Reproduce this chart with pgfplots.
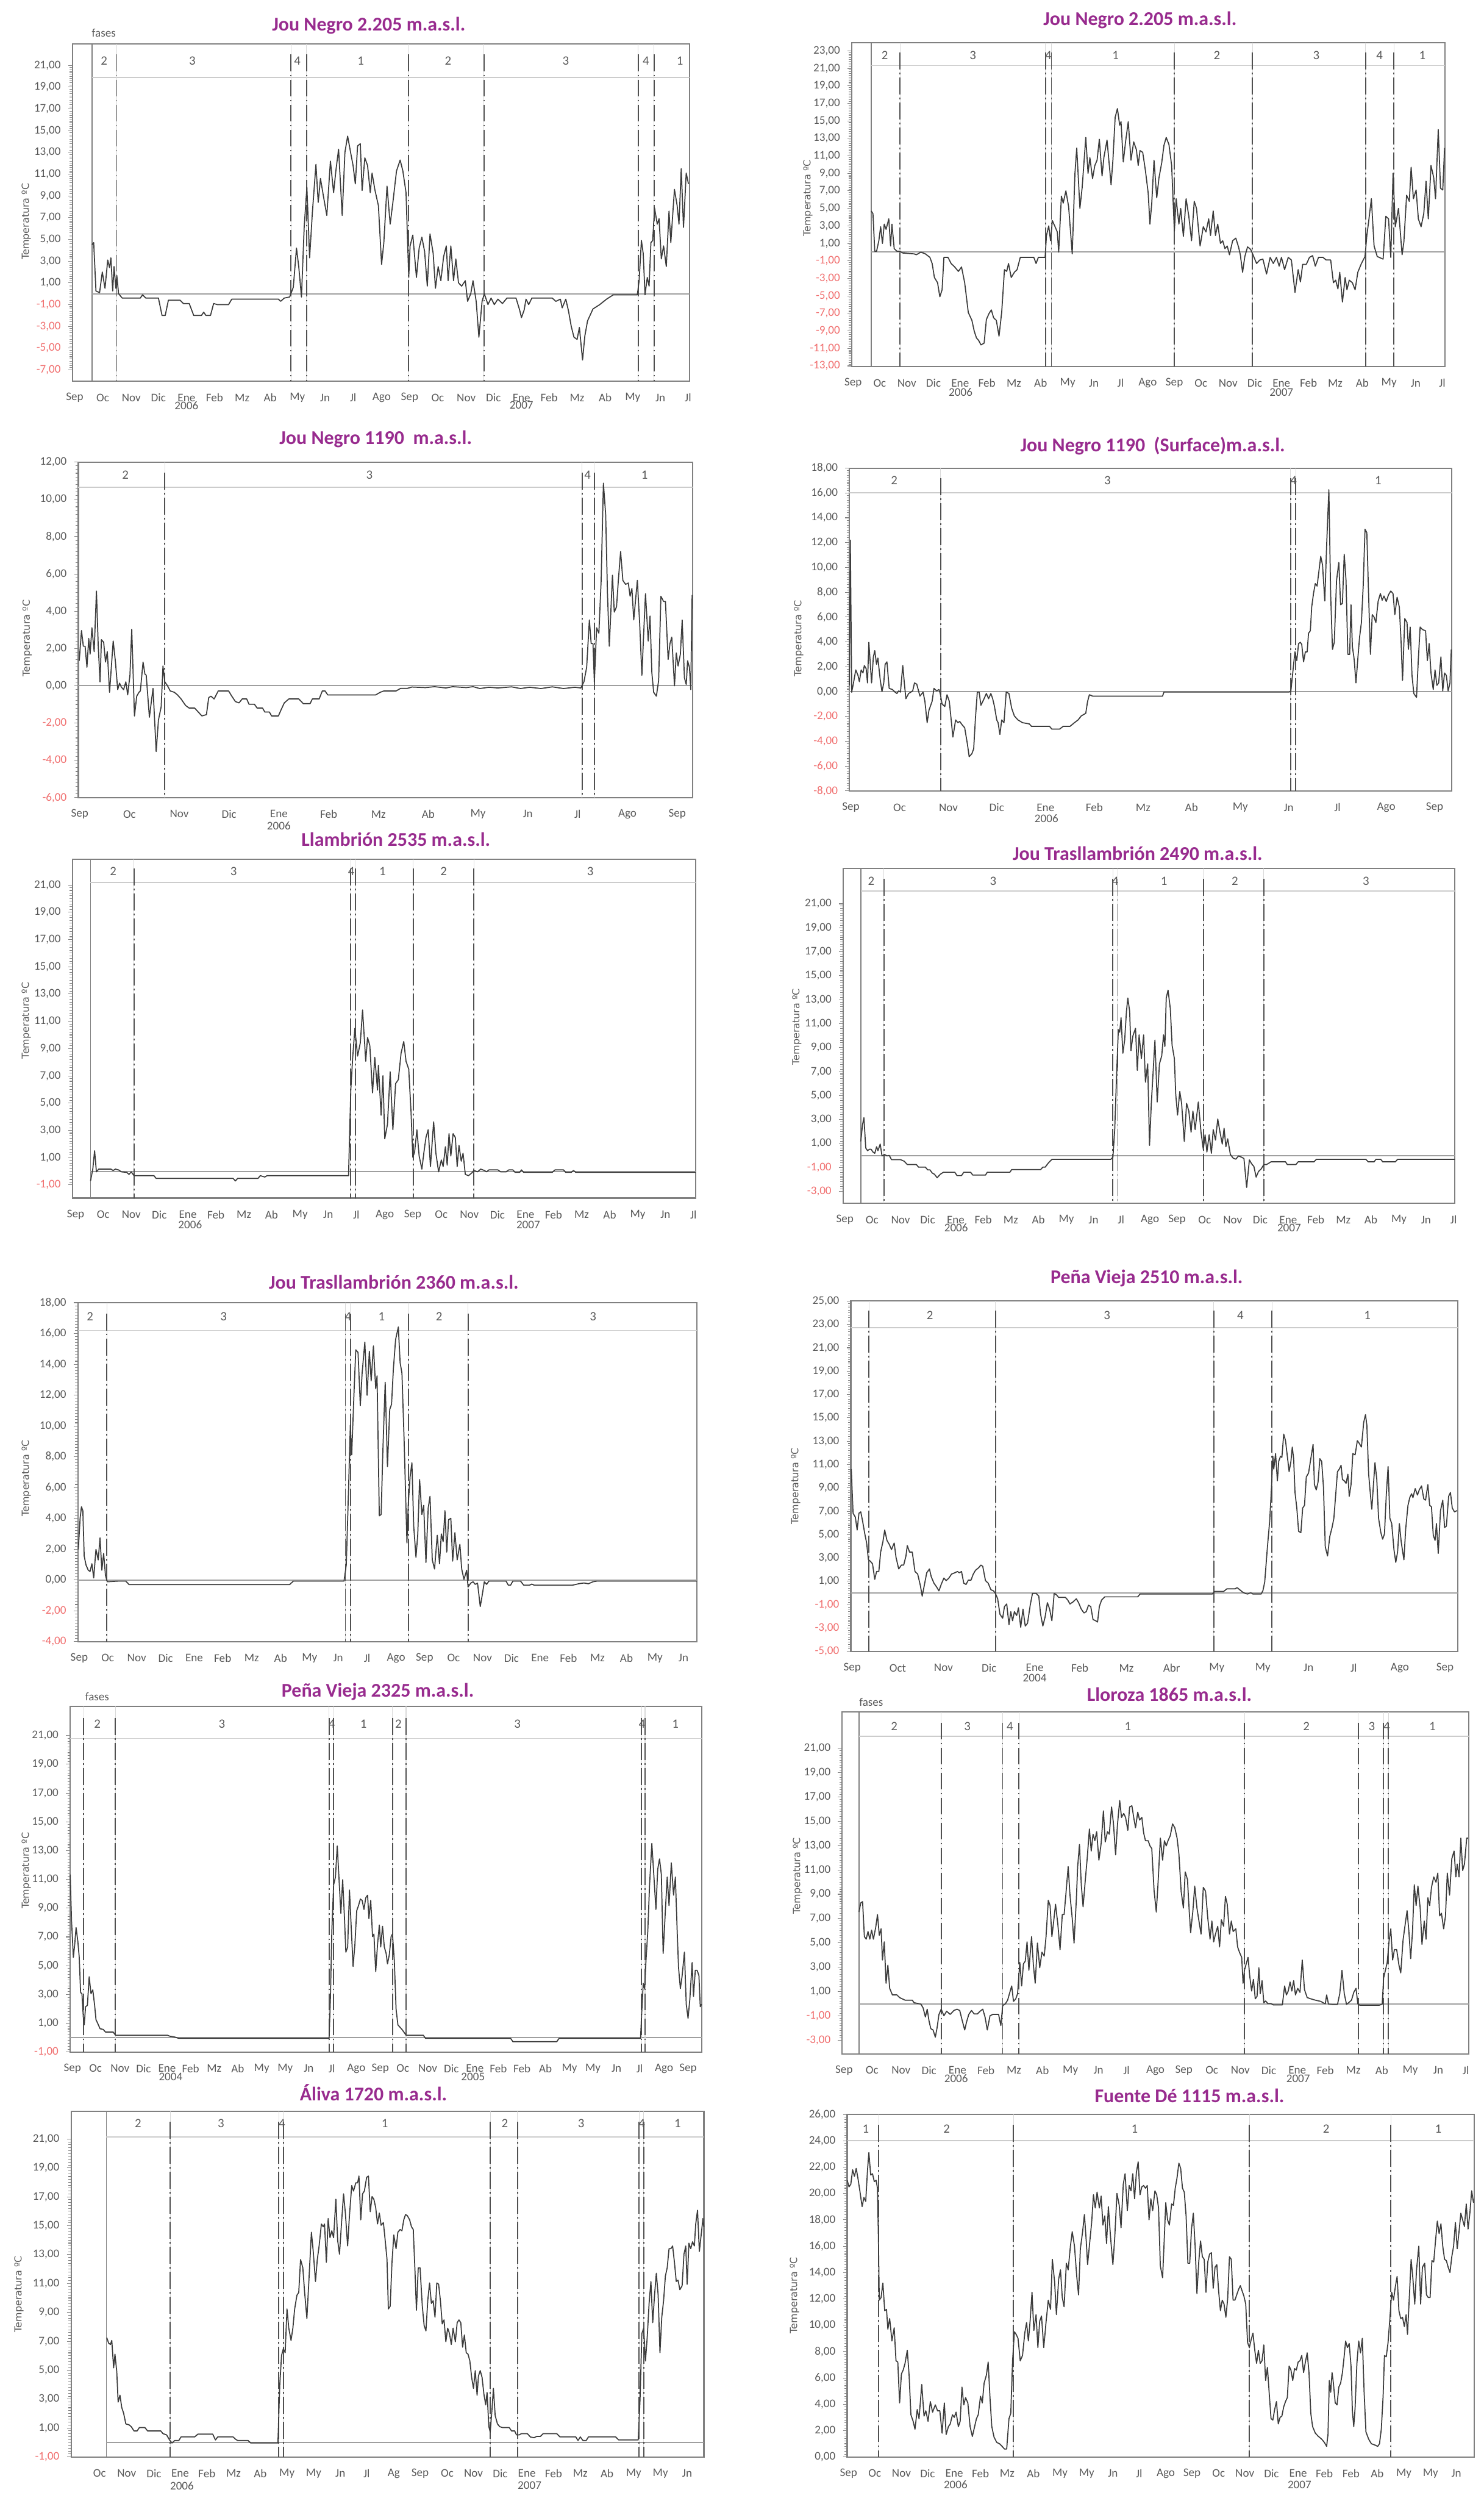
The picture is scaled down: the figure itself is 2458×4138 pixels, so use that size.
\documentclass[border=0pt]{standalone}
\usepackage{pgfplots}
\pgfplotsset{compat=1.18}
\usepackage{fontspec}
\setmainfont{Carlito}
\newfontfamily\ylfont{DejaVu Sans}
\definecolor{titlepurple}{RGB}{152,43,142}
\definecolor{lblgray}{RGB}{89,89,89}
\definecolor{negred}{RGB}{240,110,110}
\definecolor{axgray}{RGB}{128,128,128}
\definecolor{linegray}{RGB}{60,60,60}
\definecolor{phasegray}{RGB}{80,80,80}
\newcommand\negl[1]{\textcolor{negred}{#1}}
\newcommand\phl[2]{\draw[faint] (axis cs:#1,\YMIN) -- (axis cs:#1,\YMAX); \draw[phase] (axis cs:#1,#2) -- (axis cs:#1,\YMIN);}
\tikzset{
  faint/.style={draw=gray!30, line width=0.3pt},
  phase/.style={draw=phasegray, line width=0.55pt, dash pattern=on 8pt off 1.5pt on 0.8pt off 1.5pt},
  sepline/.style={draw=gray!40, line width=0.5pt},
  zeroline/.style={draw=gray!75, line width=0.6pt},
  frameline/.style={draw=axgray, line width=0.5pt},
  phlbl/.style={font=\fontsize{6}{7}\selectfont, text=lblgray},
  yearlbl/.style={font=\fontsize{5.5}{6.5}\selectfont, text=lblgray},
  ylab/.style={rotate=90, font=\ylfont\fontsize{4.6}{5.5}\selectfont, text=lblgray},
  ttl/.style={font=\fontsize{9.2}{11}\selectfont\bfseries, text=titlepurple},
  fases/.style={font=\fontsize{5.5}{6.5}\selectfont, text=lblgray},
}
\pgfplotsset{
  panel/.style={
    clip=false,
    anchor=north west,
    axis line style={draw=axgray, line width=0.6pt},
    every tick label/.append style={font=\fontsize{5.5}{6.5}\selectfont, text=lblgray},
    xtick style={draw=none},
    ytick style={draw=axgray, line width=0.3pt},
    minor tick style={draw=axgray!80, line width=0.2pt},
    tick pos=left,
    tick align=outside,
    major tick length=2pt,
    minor tick length=1.3pt,
    minor y tick num=9,
    xticklabel style={anchor=center, yshift=-5.8pt},
  },
  dataline/.style={color=linegray, line width=0.5pt, line join=round},
}
\begin{document}
\begin{tikzpicture}[x=0.284784pt, y=0.284784pt]
\useasboundingbox (0,0) rectangle (2458,4138);

% ---------------- Panel 1 ----------------
\node[ttl] at (611,4096) {Jou Negro 2.205 m.a.s.l.};
\node[fases] at (172,4083) {fases};
\def\YMIN{-8.056}\def\YMAX{22.965}
\begin{axis}[panel, at={(34.174pt,1157.647pt)}, x=0.213588pt, y=5.128pt,
  xmin=160, xmax=1523, ymin=-8.056, ymax=22.965,
  xtick={165,227,290,350,412,474,535,597,657,718,780,843,905,967,1030,1090,1152,1213,1275,1337,1398,1459,1520},
  xticklabels={Sep,Oc,Nov,Dic,Ene,Feb,Mz,Ab,My,Jn,Jl,Ago,Sep,Oc,Nov,Dic,Ene,Feb,Mz,Ab,My,Jn,Jl},
  ytick={-7,-5,...,21},
  yticklabels={{\negl{-7,00}},{\negl{-5,00}},{\negl{-3,00}},{\negl{-1,00}},{1,00},{3,00},{5,00},{7,00},{9,00},{11,00},{13,00},{15,00},{17,00},{19,00},{21,00}}]
\draw[frameline] (axis cs:203,\YMIN) -- (axis cs:203,\YMAX);
\draw[sepline] (axis cs:203,19.9) -- (axis cs:1523,19.9);
\draw[zeroline] (axis cs:203,0) -- (axis cs:1523,0);
\phl{258}{22}\phl{643}{22}\phl{677}{22}\phl{903}{22}\phl{1069}{22}\phl{1410}{22}\phl{1445}{22}
\node[phlbl] at (axis cs:230,21.4) {2};
\node[phlbl] at (axis cs:425,21.4) {3};
\node[phlbl] at (axis cs:657,21.4) {4};
\node[phlbl] at (axis cs:797,21.4) {1};
\node[phlbl] at (axis cs:990,21.4) {2};
\node[phlbl] at (axis cs:1250,21.4) {3};
\node[phlbl] at (axis cs:1427,21.4) {4};
\node[phlbl] at (axis cs:1502,21.4) {1};
\node[yearlbl, yshift=-11.4pt] at (axis cs:412,\YMIN) {2006};
\node[yearlbl, yshift=-11.4pt] at (axis cs:1152,\YMIN) {2007};
\node[xshift=-21.8pt, ylab] at (rel axis cs:0,0.474) {Temperatura ºC};
\addplot[dataline] coordinates {(203,4.5)(207,4.7)(212,0.25)(220,0.1)(226,2.0)(232,0.5)(238,3.1)(242,2.4)(245,3.3)(249,0.25)(252,2.5)(256,0.5)(258,1.7)(262,0)(270,-0.4)(310,-0.4)(315,-0.1)(322,-0.4)(350,-0.4)(358,-2)(365,-2)(372,-0.6)(398,-0.6)(405,-0.9)(418,-0.9)(428,-2)(445,-2)(450,-1.7)(455,-2)(465,-2)(472,-0.9)(480,-1)(505,-1)(512,-0.5)(615,-0.5)(620,-0.7)(628,-0.4)(640,-0.3)(648,0.6)(655,4.2)(660,2.5)(666,-0.3)(672,6.1)(678,9.8)(684,3.3)(690,7.4)(698,11.9)(703,8.4)(708,10.6)(714,9.1)(722,7.2)(730,12.2)(737,9.3)(742,11.3)(748,13.3)(756,7.2)(762,13.0)(768,14.5)(775,12.9)(780,11.8)(785,10.1)(790,13.6)(796,13.8)(800,9.5)(806,12.5)(812,11.8)(818,9.3)(822,11.1)(828,9.6)(836,8.1)(843,2.7)(848,4.7)(855,9.9)(862,6.4)(868,8.4)(876,11.3)(884,12.3)(890,11.3)(897,9.3)(903,1.5)(906,4.4)(912,5.4)(920,1.5)(926,4.2)(932,5.2)(938,3.9)(944,0.7)(950,5.5)(957,3.7)(962,0.5)(968,2.5)(974,1.2)(980,3.4)(986,4.4)(990,1.2)(996,4.4)(1002,1.2)(1007,3.2)(1013,1.0)(1020,0.7)(1028,1.2)(1033,-0.7)(1040,0)(1045,1.2)(1052,-0.7)(1058,-4.0)(1065,-0.7)(1070,0)(1078,-1)(1085,-0.4)(1092,-1)(1100,-0.5)(1110,-0.9)(1120,-0.4)(1140,-0.4)(1148,-1.5)(1152,-2.2)(1158,-1.5)(1162,-0.5)(1168,-1)(1175,-0.4)(1220,-0.4)(1228,-0.7)(1238,-0.5)(1242,-1.3)(1250,-0.5)(1256,-1.6)(1262,-3)(1268,-4)(1275,-4.2)(1280,-3.1)(1287,-6.1)(1292,-3.9)(1298,-2.5)(1310,-1.4)(1325,-1)(1340,-0.5)(1355,-0.1)(1408,-0.1)(1412,1.2)(1417,4.9)(1421,3.7)(1425,-0.1)(1430,1.5)(1434,0.7)(1438,4.7)(1442,4.9)(1446,7.9)(1452,6.4)(1456,6.9)(1461,3.2)(1466,4.4)(1472,2.5)(1478,7.6)(1482,4.7)(1490,9.6)(1496,8.1)(1500,6.4)(1505,11.5)(1510,6.1)(1516,11.1)(1521,10.1)};
\end{axis}

% ---------------- Panel 2 ----------------
\node[ttl] at (1889,4105) {Jou Negro 2.205 m.a.s.l.};
\def\YMIN{-13.06}\def\YMAX{23.92}
\begin{axis}[panel, at={(401.916pt,1158.273pt)}, x=0.213227pt, y=4.129pt,
  xmin=162, xmax=1475, ymin=-13.06, ymax=23.92,
  xtick={165,224,284,343,402,461,521,580,640,698,757,817,876,935,995,1054,1113,1173,1232,1292,1351,1410,1469},
  xticklabels={Sep,Oc,Nov,Dic,Ene,Feb,Mz,Ab,My,Jn,Jl,Ago,Sep,Oc,Nov,Dic,Ene,Feb,Mz,Ab,My,Jn,Jl},
  ytick={-13,-11,...,23},
  yticklabels={{\negl{-13,00}},{\negl{-11,00}},{\negl{-9,00}},{\negl{-7,00}},{\negl{-5,00}},{\negl{-3,00}},{\negl{-1,00}},{1,00},{3,00},{5,00},{7,00},{9,00},{11,00},{13,00},{15,00},{17,00},{19,00},{21,00},{23,00}}]
\draw[frameline] (axis cs:205,\YMIN) -- (axis cs:205,\YMAX);
\draw[sepline] (axis cs:205,21.32) -- (axis cs:1475,21.32);
\draw[zeroline] (axis cs:205,0) -- (axis cs:1475,0);
\phl{269}{22.8}\phl{591}{22.8}\phl{604}{22.8}\phl{876}{22.8}\phl{1049}{22.8}\phl{1299}{22.8}\phl{1362}{22.8}
\node[phlbl] at (axis cs:235,22.5) {2};
\node[phlbl] at (axis cs:430,22.5) {3};
\node[phlbl] at (axis cs:597,22.5) {4};
\node[phlbl] at (axis cs:746,22.5) {1};
\node[phlbl] at (axis cs:970,22.5) {2};
\node[phlbl] at (axis cs:1190,22.5) {3};
\node[phlbl] at (axis cs:1330,22.5) {4};
\node[phlbl] at (axis cs:1425,22.5) {1};
\node[yearlbl, yshift=-12.2pt] at (axis cs:403,\YMIN) {2006};
\node[yearlbl, yshift=-12.2pt] at (axis cs:1113,\YMIN) {2007};
\node[xshift=-20.7pt, ylab] at (rel axis cs:0,0.52) {Temperatura ºC};
\addplot[dataline] coordinates {(205,4.7)(209,4.4)(213,0.1)(217,0.1)(222,1.3)(226,2.9)(230,1.0)(234,3.2)(238,2.6)(244,3.8)(248,0.7)(251,3.2)(256,0.4)(262,0.1)(268,0.1)(275,-0.1)(300,-0.2)(305,-0.3)(315,0.0)(325,-0.2)(335,-0.6)(340,-1.3)(345,-2.9)(352,-3.5)(357,-5.1)(362,-4.3)(366,-0.6)(375,-0.6)(382,-1.3)(390,-1.7)(398,-2.2)(405,-1.7)(412,-3.5)(420,-6.9)(428,-7.8)(433,-9.0)(438,-9.8)(443,-10.1)(448,-10.6)(455,-10.4)(460,-7.7)(466,-7.0)(471,-6.6)(476,-7.5)(482,-7.8)(488,-9.6)(494,-6.8)(500,-2.0)(505,-2.2)(509,-1.3)(515,-2.9)(522,-2.3)(528,-2.0)(535,-0.6)(565,-0.6)(570,-1.3)(575,-0.6)(590,-0.6)(593,1.9)(598,3.0)(602,1.3)(606,3.6)(612,2.9)(617,2.3)(620,0.0)(626,6.4)(630,5.6)(636,7.0)(642,5.2)(650,-0.2)(656,9.0)(660,11.9)(667,5.0)(672,7.4)(680,13.1)(685,9.0)(689,10.8)(695,8.4)(700,9.9)(705,10.5)(710,12.9)(716,8.7)(720,10.8)(727,12.8)(736,7.7)(740,10.5)(745,15.4)(750,16.4)(755,14.5)(758,14.9)(763,10.3)(768,12.6)(774,14.9)(780,10.5)(786,12.6)(792,11.7)(796,9.9)(800,11.6)(806,11.4)(812,9.3)(818,6.8)(822,3.2)(826,5.6)(831,10.5)(837,6.2)(842,8.5)(848,10.2)(853,12.2)(858,13.1)(864,12.3)(870,9.9)(876,2.4)(880,6.1)(886,3.2)(890,5.0)(896,1.8)(902,6.1)(908,4.1)(914,1.3)(920,5.8)(925,5.0)(933,0.7)(940,2.9)(946,2.3)(952,3.8)(956,1.9)(962,4.7)(967,1.9)(972,3.2)(978,1.0)(983,1.3)(988,0.4)(993,0.7)(998,-0.3)(1005,1.3)(1012,1.6)(1018,0.6)(1022,-0.3)(1027,-2.3)(1032,-0.5)(1038,0.6)(1045,0.3)(1050,-0.3)(1058,-1.3)(1065,-0.9)(1072,-0.8)(1080,-2.5)(1088,-0.6)(1095,-1.3)(1102,-0.6)(1108,-1.6)(1113,-0.6)(1120,-2.0)(1128,-0.6)(1135,-0.9)(1143,-4.6)(1150,-2.0)(1155,-3.4)(1160,-1.4)(1168,-1.4)(1175,-0.6)(1182,-0.4)(1188,-1.6)(1195,-0.6)(1205,-0.6)(1212,-0.9)(1222,-0.9)(1228,-3.5)(1233,-3.2)(1238,-4.2)(1242,-2.3)(1248,-5.7)(1254,-2.9)(1258,-4.3)(1263,-3.2)(1270,-3.5)(1276,-4.3)(1282,-2.3)(1290,-1.3)(1298,-0.5)(1302,1.9)(1306,3.5)(1312,6.1)(1318,0.7)(1325,-0.5)(1338,-0.8)(1344,4.1)(1350,3.8)(1355,-0.6)(1360,9.0)(1365,2.9)(1372,5.0)(1380,-0.3)(1384,1.2)(1390,6.5)(1396,5.8)(1400,9.7)(1405,6.1)(1411,7.1)(1416,3.8)(1422,2.9)(1428,4.4)(1433,8.1)(1438,3.8)(1444,9.9)(1450,8.5)(1454,6.1)(1460,14.0)(1465,7.3)(1470,7.1)(1474,11.9)};
\end{axis}

% ---------------- Panel 3 ----------------
\node[ttl] at (622.5,3411) {Jou Negro 1190\ \ m.a.s.l.};
\def\YMIN{-6}\def\YMAX{12}
\begin{axis}[panel, at={(36.965pt,960.462pt)}, x=0.213588pt, y=8.793pt,
  xmin=173, xmax=1530, ymin=-6, ymax=12,
  xtick={176,286,396,506,616,726,836,946,1056,1166,1276,1386,1496},
  xticklabels={Sep,Oc,Nov,Dic,Ene,Feb,Mz,Ab,My,Jn,Jl,Ago,Sep},
  ytick={-6,-4,...,12},
  yticklabels={{\negl{-6,00}},{\negl{-4,00}},{\negl{-2,00}},{0,00},{2,00},{4,00},{6,00},{8,00},{10,00},{12,00}}]
\draw[sepline] (axis cs:173,10.64) -- (axis cs:1530,10.64);
\draw[zeroline] (axis cs:173,0) -- (axis cs:1530,0);
\phl{364}{11.44}\phl{1286}{11.44}\phl{1313}{11.44}
\node[phlbl] at (axis cs:277,11.32) {2};
\node[phlbl] at (axis cs:816,11.32) {3};
\node[phlbl] at (axis cs:1298,11.32) {4};
\node[phlbl] at (axis cs:1424,11.32) {1};
\node[yearlbl, yshift=-13.2pt] at (axis cs:616,\YMIN) {2006};
\node[xshift=-24.1pt, ylab] at (rel axis cs:0,0.475) {Temperatura ºC};
\addplot[dataline] coordinates {(175,1.34)(180,2.96)(184,2.12)(188,2.12)(192,0.99)(196,2.54)(199,1.69)(203,3.11)(208,1.83)(213,5.08)(217,2.12)(221,0.21)(224,2.47)(229,2.33)(233,1.27)(237,1.83)(242,-0.35)(250,2.40)(255,1.27)(260,-0.21)(264,0.14)(268,-0.07)(273,-0.21)(278,0.21)(282,-0.49)(287,0.56)(291,3.03)(297,-1.62)(302,-0.56)(307,-0.35)(310,-0.28)(316,1.27)(320,0.63)(323,0.56)(330,-1.69)(338,-0.14)(345,-3.53)(350,-1.84)(356,-1.13)(360,1.06)(364,0.21)(370,0.0)(376,-0.28)(385,-0.35)(392,-0.49)(400,-0.71)(410,-1.06)(418,-1.20)(430,-1.20)(438,-1.41)(446,-1.62)(456,-1.55)(461,-0.64)(466,-0.56)(473,-0.71)(482,-0.28)(505,-0.28)(512,-0.56)(520,-0.85)(528,-0.92)(535,-0.71)(545,-0.71)(550,-0.99)(562,-0.99)(568,-1.20)(580,-1.20)(585,-1.41)(595,-1.41)(600,-1.62)(615,-1.62)(620,-1.34)(628,-0.92)(638,-0.71)(660,-0.71)(670,-0.96)(685,-0.96)(690,-0.71)(705,-0.71)(712,-0.28)(718,-0.28)(724,-0.49)(830,-0.49)(840,-0.35)(848,-0.28)(875,-0.28)(885,-0.14)(900,-0.14)(910,-0.07)(940,-0.1)(960,-0.05)(985,-0.12)(1000,-0.05)(1030,-0.1)(1045,-0.05)(1060,-0.15)(1080,-0.08)(1100,-0.12)(1130,-0.06)(1150,-0.15)(1170,-0.08)(1195,-0.15)(1220,-0.06)(1245,-0.15)(1270,-0.08)(1283,-0.12)(1290,0.21)(1296,0.99)(1302,3.53)(1306,2.26)(1310,2.26)(1313,0.21)(1318,3.11)(1323,2.82)(1328,5.65)(1333,10.87)(1338,9.18)(1342,4.94)(1346,2.12)(1353,5.93)(1357,3.95)(1362,4.24)(1366,5.65)(1371,7.20)(1376,5.65)(1382,5.44)(1388,5.51)(1392,4.80)(1396,5.22)(1400,3.53)(1408,5.65)(1413,3.39)(1418,0.56)(1422,2.82)(1426,4.94)(1432,2.40)(1436,3.74)(1440,0.71)(1444,-0.35)(1450,-0.56)(1455,0.28)(1460,4.80)(1466,4.52)(1470,4.52)(1476,1.41)(1480,2.26)(1484,2.61)(1490,0.0)(1494,1.76)(1498,1.06)(1503,1.69)(1507,3.53)(1512,0.42)(1516,0.07)(1519,1.34)(1523,0.99)(1526,-0.21)(1529,4.87)};
\end{axis}

% ---------------- Panel 4 ----------------
\node[ttl] at (1910,3399) {Jou Negro 1190\ \ (Surface)m.a.s.l.};
\def\YMIN{-8}\def\YMAX{18}
\begin{axis}[panel, at={(400.834pt,957.615pt)}, x=0.213227pt, y=5.858pt,
  xmin=157, xmax=1490, ymin=-8, ymax=18,
  xtick={160,268,376,483,591,699,807,914,1022,1129,1237,1345,1452},
  xticklabels={Sep,Oc,Nov,Dic,Ene,Feb,Mz,Ab,My,Jn,Jl,Ago,Sep},
  ytick={-8,-6,...,18},
  yticklabels={{\negl{-8,00}},{\negl{-6,00}},{\negl{-4,00}},{\negl{-2,00}},{0,00},{2,00},{4,00},{6,00},{8,00},{10,00},{12,00},{14,00},{16,00},{18,00}}]
\draw[sepline] (axis cs:157,16.0) -- (axis cs:1490,16.0);
\draw[zeroline] (axis cs:157,0) -- (axis cs:1490,0);
\phl{359}{17.2}\phl{1133}{17.2}\phl{1145}{17.2}
\node[phlbl] at (axis cs:256,17.0) {2};
\node[phlbl] at (axis cs:728,17.0) {3};
\node[phlbl] at (axis cs:1140,17.0) {4};
\node[phlbl] at (axis cs:1327,17.0) {1};
\node[yearlbl, yshift=-13pt] at (axis cs:593,\YMIN) {2006};
\node[xshift=-23.9pt, ylab] at (rel axis cs:0,0.473) {Temperatura ºC};
\addplot[dataline] coordinates {(157,0.5)(159,12.2)(162,-0.05)(166,0.7)(171,1.75)(176,1.3)(179,0.8)(183,1.75)(187,1.5)(190,2.1)(194,1.85)(197,0.7)(200,3.97)(206,0.7)(210,2.8)(213,3.3)(217,2.2)(220,2.7)(225,1.0)(229,0)(233,0.7)(236,2.2)(240,2.4)(245,0.26)(252,0.17)(258,-0.04)(262,-0.15)(266,0.06)(270,-0.04)(275,2.1)(279,0.5)(282,-0.57)(288,-0.15)(293,-0.04)(297,0.06)(301,0.7)(306,0.6)(313,-0.36)(320,-0.04)(324,-0.78)(329,-2.5)(333,-1.5)(340,-0.78)(344,0.26)(350,0.06)(355,0.17)(358,-0.15)(362,-1.0)(368,-1.2)(373,-0.25)(378,-0.78)(386,-3.66)(392,-2.28)(397,-2.5)(401,-2.4)(407,-2.7)(412,-2.9)(418,-4.2)(422,-5.24)(428,-5.0)(432,-4.6)(436,-2.07)(440,-0.04)(444,-0.04)(448,-1.1)(455,-0.57)(460,-0.15)(465,-0.57)(470,-0.15)(474,-0.57)(478,-1.2)(483,-2.28)(486,-2.5)(490,-3.45)(494,-2.28)(499,-2.5)(504,-0.04)(510,-0.15)(516,-1.33)(522,-1.96)(530,-2.28)(540,-2.5)(555,-2.6)(560,-2.8)(600,-2.8)(605,-3.02)(622,-3.02)(630,-2.8)(645,-2.8)(655,-2.5)(663,-2.28)(670,-1.96)(675,-1.85)(680,-1.75)(684,-0.8)(688,-0.25)(695,-0.36)(850,-0.36)(853,-0.04)(1130,-0.04)(1134,0.06)(1140,2.2)(1143,3.2)(1147,2.5)(1151,3.87)(1155,3.97)(1158,3.8)(1162,2.4)(1166,3.2)(1170,3.2)(1173,4.7)(1177,4.9)(1180,6.8)(1184,7.9)(1188,8.7)(1192,8.5)(1195,9.4)(1200,10.9)(1204,10.2)(1209,7.3)(1213,11.7)(1218,16.26)(1222,7.8)(1226,3.4)(1230,3.97)(1235,8.95)(1240,10.4)(1244,7.0)(1248,7.1)(1252,11.07)(1256,8.95)(1260,3.0)(1264,3.0)(1267,7.0)(1270,3.65)(1274,2.6)(1278,0.7)(1282,2.6)(1286,4.4)(1290,5.56)(1294,8.5)(1298,13.08)(1302,12.8)(1306,7.7)(1310,3.0)(1314,6.2)(1318,6.0)(1322,5.56)(1327,7.26)(1332,7.9)(1336,7.36)(1340,7.7)(1345,7.26)(1350,7.8)(1355,8.1)(1360,7.9)(1364,6.2)(1369,7.6)(1374,6.8)(1378,3.87)(1381,0.9)(1386,5.88)(1391,5.56)(1394,3.4)(1398,5.2)(1402,1.3)(1406,-0.15)(1412,-0.47)(1416,2.6)(1420,5.2)(1425,5.0)(1432,4.9)(1436,2.5)(1440,3.87)(1444,1.5)(1449,0.17)(1453,1.75)(1457,0.5)(1461,0.7)(1466,2.8)(1470,0.06)(1474,1.5)(1478,1.3)(1482,0.06)(1486,0.7)(1489,3.4)};
\end{axis}

% ---------------- Panel 5 ----------------
\node[ttl] at (656,2747) {Llambrión 2535 m.a.s.l.};
\def\YMIN{-1.965}\def\YMAX{22.89}
\begin{axis}[panel, at={(34.174pt,773.132pt)}, x=0.213588pt, y=6.433pt,
  xmin=160, xmax=1537, ymin=-1.965, ymax=22.89,
  xtick={167,228,290,352,415,477,539,600,663,725,787,850,912,975,1037,1099,1161,1223,1285,1347,1409,1470,1532},
  xticklabels={Sep,Oc,Nov,Dic,Ene,Feb,Mz,Ab,My,Jn,Jl,Ago,Sep,Oc,Nov,Dic,Ene,Feb,Mz,Ab,My,Jn,Jl},
  ytick={-1,1,...,21},
  yticklabels={{\negl{-1,00}},{1,00},{3,00},{5,00},{7,00},{9,00},{11,00},{13,00},{15,00},{17,00},{19,00},{21,00}}]
\draw[frameline] (axis cs:200,\YMIN) -- (axis cs:200,\YMAX);
\draw[sepline] (axis cs:200,21.19) -- (axis cs:1537,21.19);
\draw[zeroline] (axis cs:200,0) -- (axis cs:1537,0);
\phl{296}{22.2}\phl{775}{22.2}\phl{785}{22.2}\phl{913}{22.2}\phl{1047}{22.2}
\node[phlbl] at (axis cs:250,22.0) {2};
\node[phlbl] at (axis cs:516,22.0) {3};
\node[phlbl] at (axis cs:776,22.0) {4};
\node[phlbl] at (axis cs:845,22.0) {1};
\node[phlbl] at (axis cs:980,22.0) {2};
\node[phlbl] at (axis cs:1304,22.0) {3};
\node[yearlbl, yshift=-12.6pt] at (axis cs:420,\YMIN) {2006};
\node[yearlbl, yshift=-12.6pt] at (axis cs:1167,\YMIN) {2007};
\node[xshift=-21.8pt, ylab] at (rel axis cs:0,0.524) {Temperatura ºC};
\addplot[dataline] coordinates {(200,-0.71)(205,0.16)(209,1.51)(213,-0.04)(218,0.16)(245,0.16)(250,0.06)(255,0.16)(262,0.1)(268,-0.04)(280,-0.08)(285,-0.23)(290,-0.04)(296,-0.32)(340,-0.32)(345,-0.52)(515,-0.52)(520,-0.71)(525,-0.52)(570,-0.52)(575,-0.32)(585,-0.42)(590,-0.32)(770,-0.32)(775,5.95)(779,8.26)(784,10.48)(790,8.45)(796,9.42)(801,11.83)(808,8.07)(812,9.81)(817,9.23)(823,5.75)(828,8.36)(834,5.95)(836,7.78)(842,4.11)(846,7.01)(850,2.38)(856,3.44)(862,7.30)(868,3.05)(874,6.43)(880,6.72)(886,8.65)(892,9.52)(897,8.07)(903,7.49)(908,4.40)(912,1.03)(916,1.41)(921,3.05)(926,1.12)(932,0.16)(937,1.51)(941,2.47)(946,3.05)(951,0.35)(958,3.63)(963,1.32)(969,-0.04)(975,0.83)(979,0.35)(984,1.80)(988,0.45)(992,2.76)(996,1.12)(1001,2.76)(1006,2.47)(1010,0.35)(1014,1.90)(1019,0.74)(1023,1.32)(1028,-0.23)(1035,-0.32)(1042,-0.13)(1047,0.06)(1055,-0.04)(1062,0.16)(1070,0.06)(1075,-0.04)(1080,0.1)(1100,0.1)(1106,-0.04)(1118,-0.04)(1124,0.1)(1133,0.1)(1138,-0.08)(1148,-0.08)(1152,0.1)(1157,-0.08)(1220,-0.08)(1226,0.1)(1245,0.1)(1250,-0.08)(1262,-0.08)(1267,0.06)(1272,-0.08)(1537,-0.08)};
\end{axis}

% ---------------- Panel 6 ----------------
\node[ttl] at (1885,2724.4) {Jou Trasllambrión 2490 m.a.s.l.};
\def\YMIN{-3.99}\def\YMAX{23.96}
\begin{axis}[panel, at={(397.872pt,768.803pt)}, x=0.213227pt, y=5.653pt,
  xmin=143, xmax=1497, ymin=-3.99, ymax=23.96,
  xtick={147,207,270,330,392,453,514,575,637,697,758,822,882,943,1005,1066,1128,1189,1250,1311,1373,1433,1494},
  xticklabels={Sep,Oc,Nov,Dic,Ene,Feb,Mz,Ab,My,Jn,Jl,Ago,Sep,Oc,Nov,Dic,Ene,Feb,Mz,Ab,My,Jn,Jl},
  ytick={-3,-1,...,21},
  yticklabels={{\negl{-3,00}},{\negl{-1,00}},{1,00},{3,00},{5,00},{7,00},{9,00},{11,00},{13,00},{15,00},{17,00},{19,00},{21,00}}]
\draw[frameline] (axis cs:182,\YMIN) -- (axis cs:182,\YMAX);
\draw[sepline] (axis cs:182,22.08) -- (axis cs:1497,22.08);
\draw[zeroline] (axis cs:182,0) -- (axis cs:1497,0);
\phl{233}{23.1}\phl{740}{23.1}\phl{751}{23.1}\phl{940}{23.1}\phl{1074}{23.1}
\node[phlbl] at (axis cs:205,22.9) {2};
\node[phlbl] at (axis cs:475,22.9) {3};
\node[phlbl] at (axis cs:745,22.9) {4};
\node[phlbl] at (axis cs:853,22.9) {1};
\node[phlbl] at (axis cs:1010,22.9) {2};
\node[phlbl] at (axis cs:1300,22.9) {3};
\node[yearlbl, yshift=-11.6pt] at (axis cs:393,\YMIN) {2006};
\node[yearlbl, yshift=-11.6pt] at (axis cs:1130,\YMIN) {2007};
\node[xshift=-21.9pt, ylab] at (rel axis cs:0,0.527) {Temperatura ºC};
\addplot[dataline] coordinates {(182,1.17)(186,2.60)(189,3.15)(193,0.62)(197,0.40)(201,0.51)(205,0.51)(209,0.29)(213,0.18)(217,0.73)(220,0.40)(225,0.95)(229,-0.04)(235,0.07)(240,-0.04)(245,0.0)(250,-0.35)(270,-0.35)(278,-0.48)(285,-0.76)(305,-0.76)(310,-0.98)(325,-0.98)(330,-1.20)(335,-1.20)(340,-1.46)(345,-1.57)(351,-1.86)(358,-1.57)(365,-1.40)(390,-1.40)(395,-1.68)(405,-1.68)(410,-1.40)(425,-1.40)(430,-1.64)(458,-1.64)(462,-1.40)(512,-1.40)(516,-1.18)(580,-1.18)(585,-0.98)(590,-0.98)(598,-0.59)(605,-0.33)(735,-0.33)(740,-0.15)(744,2.16)(748,6.55)(752,10.5)(755,10.28)(758,11.49)(762,8.53)(766,9.63)(770,12.04)(773,13.14)(777,12.04)(780,8.75)(784,9.95)(790,10.61)(794,7.10)(798,10.06)(803,8.09)(808,10.06)(812,6.11)(817,7.65)(821,0.84)(825,4.35)(829,6.99)(833,9.63)(838,4.46)(843,7.65)(848,8.31)(852,10.06)(855,9.08)(858,13.14)(862,13.80)(867,12.26)(871,9.19)(876,8.09)(879,5.12)(883,3.37)(888,5.34)(892,4.35)(898,1.17)(903,4.35)(908,3.70)(913,1.94)(917,3.70)(922,2.16)(929,4.46)(935,1.94)(940,0.51)(944,1.72)(948,0.29)(953,1.72)(958,0.18)(962,2.16)(967,1.28)(972,3.04)(977,1.94)(982,0.95)(986,2.27)(990,0.73)(994,1.39)(1000,0.07)(1006,-0.22)(1012,-0.31)(1018,-0.04)(1025,-0.15)(1030,-0.26)(1036,-2.67)(1042,-0.37)(1047,-0.70)(1052,-0.92)(1057,-1.81)(1062,-1.35)(1068,-1.13)(1074,-0.76)(1080,-0.76)(1090,-0.53)(1122,-0.53)(1126,-0.76)(1145,-0.76)(1150,-0.53)(1185,-0.53)(1190,-0.33)(1300,-0.33)(1305,-0.53)(1318,-0.53)(1322,-0.33)(1333,-0.33)(1337,-0.53)(1365,-0.53)(1370,-0.33)(1497,-0.33)};
\end{axis}

% ---------------- Panel 7 ----------------
\node[ttl] at (652.5,2013.6) {Jou Trasllambrión 2360 m.a.s.l.};
\def\YMIN{-4}\def\YMAX{18}
\begin{axis}[panel, at={(36.737pt,563.901pt)}, x=0.213588pt, y=7.266pt,
  xmin=172, xmax=1540, ymin=-4, ymax=18,
  xtick={175,238,302,366,429,492,556,620,684,747,811,875,938,1002,1066,1130,1193,1256,1320,1384,1447,1510},
  xticklabels={Sep,Oc,Nov,Dic,Ene,Feb,Mz,Ab,My,Jn,Jl,Ago,Sep,Oc,Nov,Dic,Ene,Feb,Mz,Ab,My,Jn},
  ytick={-4,-2,...,18},
  yticklabels={{\negl{-4,00}},{\negl{-2,00}},{0,00},{2,00},{4,00},{6,00},{8,00},{10,00},{12,00},{14,00},{16,00},{18,00}}]
\draw[sepline] (axis cs:172,16.2) -- (axis cs:1540,16.2);
\draw[zeroline] (axis cs:172,0) -- (axis cs:1540,0);
\phl{236}{17.3}\phl{763}{17.3}\phl{774}{17.3}\phl{902}{17.3}\phl{1034}{17.3}
\node[phlbl] at (axis cs:199,17.1) {2};
\node[phlbl] at (axis cs:494,17.1) {3};
\node[phlbl] at (axis cs:769,17.1) {4};
\node[phlbl] at (axis cs:843,17.1) {1};
\node[phlbl] at (axis cs:970,17.1) {2};
\node[phlbl] at (axis cs:1310,17.1) {3};
\node[xshift=-24.3pt, ylab] at (rel axis cs:0,0.482) {Temperatura ºC};
\addplot[dataline] coordinates {(173,1.98)(177,4.0)(180,4.75)(183,4.5)(186,1.55)(190,0.97)(195,0.63)(199,0.55)(203,1.05)(207,0.13)(212,1.98)(217,1.30)(221,2.73)(225,0.63)(229,1.72)(233,0.30)(237,-0.12)(260,-0.08)(278,-0.08)(285,-0.30)(640,-0.30)(648,-0.08)(760,-0.08)(765,0.97)(770,5.85)(774,10.06)(777,8.12)(782,12.08)(786,14.94)(791,14.77)(796,11.32)(800,13.42)(806,15.44)(811,11.99)(816,14.85)(820,12.92)(825,15.19)(830,12.41)(833,13.25)(838,4.16)(842,4.25)(846,8.54)(851,12.83)(856,7.36)(861,11.07)(865,11.40)(869,13.67)(874,15.61)(880,16.42)(884,14.10)(888,13.42)(893,8.88)(899,2.40)(902,4.92)(906,6.69)(910,7.61)(914,3.49)(919,1.47)(923,2.99)(927,6.52)(932,4.25)(936,4.84)(941,1.13)(946,4.67)(950,5.43)(955,1.30)(960,0.71)(966,2.90)(971,1.05)(975,2.99)(979,2.48)(983,4.50)(987,1.81)(991,3.91)(996,4.0)(1000,1.22)(1005,3.07)(1010,1.30)(1016,2.31)(1020,0.71)(1025,0.03)(1031,0.63)(1034,-0.46)(1040,-0.21)(1045,-0.12)(1050,-0.29)(1055,-0.21)(1061,-1.73)(1065,-1.05)(1070,-0.12)(1075,-0.29)(1080,-0.08)(1118,-0.08)(1123,-0.34)(1128,-0.34)(1133,-0.08)(1150,-0.08)(1157,-0.34)(1170,-0.34)(1175,-0.27)(1180,-0.34)(1265,-0.34)(1280,-0.24)(1290,-0.20)(1300,-0.25)(1310,-0.12)(1318,-0.08)(1540,-0.08)};
\end{axis}

% ---------------- Panel 8 ----------------
\node[ttl] at (1900,2020) {Peña Vieja 2510 m.a.s.l.};
\def\YMIN{-5}\def\YMAX{25}
\begin{axis}[panel, at={(401.489pt,564.641pt)}, x=0.213227pt, y=5.508pt,
  xmin=160, xmax=1503, ymin=-5, ymax=25,
  xtick={163,264,365,466,567,667,770,870,970,1072,1173,1273,1375,1475},
  xticklabels={Sep,Oct,Nov,Dic,Ene,Feb,Mz,Abr,My,My,Jn,Jl,Ago,Sep},
  ytick={-5,-3,...,25},
  yticklabels={{\negl{-5,00}},{\negl{-3,00}},{\negl{-1,00}},{1,00},{3,00},{5,00},{7,00},{9,00},{11,00},{13,00},{15,00},{17,00},{19,00},{21,00},{23,00},{25,00}}]
\draw[sepline] (axis cs:160,22.71) -- (axis cs:1503,22.71);
\draw[zeroline] (axis cs:160,0) -- (axis cs:1503,0);
\phl{200}{24.2}\phl{480}{24.2}\phl{963}{24.2}\phl{1092}{24.2}
\node[phlbl] at (axis cs:335,23.8) {2};
\node[phlbl] at (axis cs:727,23.8) {3};
\node[phlbl] at (axis cs:1022,23.8) {4};
\node[phlbl] at (axis cs:1303,23.8) {1};
\node[yearlbl, yshift=-12.6pt] at (axis cs:567,\YMIN) {2004};
\node[xshift=-26pt, ylab] at (rel axis cs:0,0.472) {Temperatura ºC};
\addplot[dataline] coordinates {(161,10.61)(165,6.83)(170,6.50)(174,5.39)(178,6.83)(182,6.95)(186,6.17)(191,5.06)(195,4.28)(199,2.84)(203,2.73)(208,2.50)(213,1.17)(217,1.84)(222,1.84)(226,3.50)(231,4.39)(235,5.39)(240,4.50)(245,4.17)(250,3.72)(256,4.28)(260,3.06)(266,2.06)(272,2.39)(277,2.39)(282,3.17)(285,4.06)(290,3.50)(296,3.50)(302,1.84)(308,1.62)(314,0.62)(318,-0.27)(323,0.73)(328,1.73)(334,2.06)(338,1.39)(344,0.84)(350,0.51)(355,0.18)(360,0.73)(366,1.28)(371,1.06)(377,1.28)(383,1.62)(390,1.73)(396,1.84)(400,1.73)(405,1.84)(410,0.84)(415,0.73)(420,1.10)(426,1.10)(431,1.62)(436,1.95)(442,2.13)(448,2.39)(452,2.28)(458,1.06)(464,0.84)(470,0.28)(476,0.18)(480,-0.04)(485,-0.49)(490,-1.82)(496,-2.16)(500,-1.16)(505,-0.94)(510,-2.71)(514,-1.60)(518,-2.38)(522,-1.60)(527,-1.93)(531,-1.27)(536,-2.94)(541,-1.38)(546,-2.83)(551,-2.60)(557,-1.05)(562,-0.04)(570,-0.04)(576,-0.27)(580,-1.82)(585,-2.83)(590,-2.05)(595,-0.83)(600,-1.38)(605,-2.38)(610,-0.04)(615,-0.15)(620,-0.38)(635,-0.38)(640,-0.60)(645,-0.94)(652,-0.76)(659,-0.49)(664,-0.83)(670,-1.38)(676,-1.71)(681,-1.60)(686,-1.05)(691,-1.16)(696,-2.27)(702,-2.38)(706,-2.49)(710,-1.16)(715,-0.60)(722,-0.33)(795,-0.33)(800,-0.09)(960,-0.09)(965,0.13)(985,0.13)(992,0.35)(1010,0.35)(1015,0.46)(1020,0.30)(1027,0.08)(1033,-0.04)(1038,-0.09)(1045,0.02)(1050,-0.09)(1068,-0.09)(1072,0.2)(1076,0.95)(1082,3.95)(1087,6.17)(1091,9.06)(1094,11.72)(1096,10.61)(1100,11.94)(1104,9.61)(1107,11.28)(1111,11.72)(1114,11.61)(1118,13.61)(1122,13.05)(1126,11.72)(1130,10.39)(1134,11.28)(1137,12.50)(1140,11.50)(1143,8.61)(1147,7.28)(1151,5.28)(1156,5.17)(1160,7.28)(1164,7.50)(1168,9.94)(1173,10.28)(1178,11.50)(1183,12.72)(1186,9.28)(1190,8.83)(1194,9.50)(1198,11.50)(1202,11.28)(1206,9.06)(1210,3.95)(1215,3.17)(1220,4.84)(1225,5.61)(1229,6.39)(1233,8.39)(1237,10.39)(1241,10.61)(1245,10.94)(1248,9.72)(1252,9.61)(1256,9.39)(1260,10.17)(1263,8.28)(1267,9.28)(1271,11.94)(1276,11.83)(1281,13.05)(1285,12.83)(1290,12.50)(1295,14.61)(1299,15.27)(1302,14.38)(1306,10.17)(1310,8.39)(1313,7.17)(1317,9.50)(1320,11.17)(1324,9.72)(1328,6.39)(1333,5.17)(1337,4.61)(1341,5.06)(1345,8.39)(1349,10.83)(1353,6.39)(1357,5.95)(1362,3.72)(1366,2.62)(1370,3.50)(1374,5.95)(1378,4.39)(1384,2.84)(1388,5.50)(1393,7.50)(1397,8.17)(1401,8.50)(1404,8.17)(1409,8.94)(1414,8.39)(1418,8.83)(1423,9.17)(1428,8.06)(1432,7.95)(1437,9.28)(1441,7.50)(1445,7.39)(1449,4.95)(1453,4.50)(1456,5.95)(1460,3.39)(1465,7.06)(1470,7.95)(1474,5.61)(1478,5.72)(1483,8.28)(1487,8.61)(1491,7.28)(1496,6.95)(1502,7.06)};
\end{axis}

% ---------------- Panel 9 ----------------
\node[ttl] at (626,1336) {Peña Vieja 2325 m.a.s.l.};
\node[fases] at (161,1327) {fases};
\def\YMIN{-1}\def\YMAX{23.02}
\begin{axis}[panel, at={(33.12pt,373.437pt)}, x=0.213588pt, y=6.788pt,
  xmin=155, xmax=1550, ymin=-1, ymax=23.02,
  xtick={160,211,265,317,369,421,473,525,578,630,682,733,787,840,890,945,997,1049,1101,1153,1205,1258,1310,1362,1413,1467,1520},
  xticklabels={Sep,Oc,Nov,Dic,Ene,Feb,Mz,Ab,My,My,Jn,Jl,Ago,Sep,Oc,Nov,Dic,Ene,Feb,Feb,Ab,My,My,Jn,Jl,Ago,Sep},
  ytick={-1,1,...,21},
  yticklabels={{\negl{-1,00}},{1,00},{3,00},{5,00},{7,00},{9,00},{11,00},{13,00},{15,00},{17,00},{19,00},{21,00}}]
\draw[sepline] (axis cs:155,20.8) -- (axis cs:1550,20.8);
\draw[zeroline] (axis cs:155,0) -- (axis cs:1550,0);
\phl{185}{22.2}\phl{255}{22.2}\phl{727}{22.2}\phl{737}{22.2}\phl{867}{22.2}\phl{897}{22.2}\phl{1417}{22.2}\phl{1425}{22.2}
\node[phlbl] at (axis cs:215,21.8) {2};
\node[phlbl] at (axis cs:490,21.8) {3};
\node[phlbl] at (axis cs:733,21.8) {4};
\node[phlbl] at (axis cs:803,21.8) {1};
\node[phlbl] at (axis cs:880,21.8) {2};
\node[phlbl] at (axis cs:1143,21.8) {3};
\node[phlbl] at (axis cs:1418,21.8) {4};
\node[phlbl] at (axis cs:1492,21.8) {1};
\node[yearlbl, yshift=-11.6pt] at (axis cs:377,\YMIN) {2004};
\node[yearlbl, yshift=-11.6pt] at (axis cs:1045,\YMIN) {2005};
\node[xshift=-20.7pt, ylab] at (rel axis cs:0,0.525) {Temperatura ºC};
\addplot[dataline] coordinates {(155,11.34)(158,8.10)(162,5.58)(165,6.48)(168,7.65)(172,6.66)(175,5.58)(178,3.14)(181,3.05)(184,1.43)(186,0.89)(189,2.15)(193,2.24)(197,4.23)(201,3.05)(205,3.32)(209,2.24)(212,1.25)(216,0.98)(221,0.62)(228,0.57)(233,0.39)(250,0.39)(255,0.17)(370,0.17)(375,0.10)(385,0.05)(395,-0.05)(410,-0.05)(727,-0.05)(730,2.87)(733,7.38)(737,10.62)(741,11.16)(745,13.32)(749,10.98)(753,8.64)(757,10.98)(761,8.28)(764,5.94)(768,6.30)(772,10.26)(776,7.56)(780,4.95)(784,6.48)(788,8.82)(792,9.18)(796,9.63)(800,9.54)(804,8.91)(808,9.72)(812,9.90)(815,8.28)(819,9.54)(823,7.02)(826,7.20)(830,4.59)(834,6.48)(838,7.83)(841,6.30)(845,7.74)(849,6.30)(853,5.85)(856,5.13)(860,5.76)(864,7.02)(867,7.20)(871,5.40)(875,1.97)(879,0.89)(884,0.71)(888,0.57)(893,0.35)(897,0.17)(935,0.17)(940,-0.05)(1128,-0.05)(1133,-0.28)(1230,-0.28)(1235,-0.05)(1415,-0.05)(1418,1.97)(1421,3.77)(1424,3.41)(1427,5.31)(1431,7.38)(1435,10.62)(1440,13.50)(1445,10.98)(1449,8.91)(1453,11.70)(1457,12.42)(1461,11.34)(1465,5.85)(1470,8.91)(1474,11.16)(1478,9.18)(1483,12.15)(1488,9.90)(1492,11.16)(1496,7.38)(1499,4.86)(1503,3.41)(1507,4.32)(1512,5.94)(1516,2.33)(1520,1.34)(1524,2.69)(1529,5.22)(1532,2.87)(1536,4.68)(1540,4.68)(1544,4.32)(1547,2.15)(1550,2.33)};
\end{axis}

% ---------------- Panel 10 ----------------
\node[ttl] at (1937.6,1331.5) {Lloroza 1865 m.a.s.l.};
\node[fases] at (1443.5,1318.6) {fases};
\def\YMIN{-4.11}\def\YMAX{23.98}
\begin{axis}[panel, at={(397.445pt,370.874pt)}, x=0.213227pt, y=5.744pt,
  xmin=141, xmax=1527, ymin=-4.11, ymax=23.98,
  xtick={145,207,271,333,396,459,521,584,646,708,770,834,897,959,1022,1085,1148,1210,1272,1335,1398,1460,1521},
  xticklabels={Sep,Oc,Nov,Dic,Ene,Feb,Mz,Ab,My,Jn,Jl,Ago,Sep,Oc,Nov,Dic,Ene,Feb,Mz,Ab,My,Jn,Jl},
  ytick={-3,-1,...,21},
  yticklabels={{\negl{-3,00}},{\negl{-1,00}},{1,00},{3,00},{5,00},{7,00},{9,00},{11,00},{13,00},{15,00},{17,00},{19,00},{21,00}}]
\draw[frameline] (axis cs:178,\YMIN) -- (axis cs:178,\YMAX);
\draw[sepline] (axis cs:178,21.96) -- (axis cs:1527,21.96);
\draw[zeroline] (axis cs:178,0) -- (axis cs:1527,0);
\phl{360}{23.1}\phl{496}{23.1}\phl{532}{23.1}\phl{1031}{23.1}\phl{1283}{23.1}\phl{1339}{23.1}\phl{1350}{23.1}
\node[phlbl] at (axis cs:256,22.8) {2};
\node[phlbl] at (axis cs:418,22.8) {3};
\node[phlbl] at (axis cs:512,22.8) {4};
\node[phlbl] at (axis cs:773,22.8) {1};
\node[phlbl] at (axis cs:1168,22.8) {2};
\node[phlbl] at (axis cs:1313,22.8) {3};
\node[phlbl] at (axis cs:1346,22.8) {4};
\node[phlbl] at (axis cs:1447,22.8) {1};
\node[yearlbl, yshift=-11.6pt] at (axis cs:393,\YMIN) {2006};
\node[yearlbl, yshift=-11.6pt] at (axis cs:1150,\YMIN) {2007};
\node[xshift=-21.1pt, ylab] at (rel axis cs:0,0.521) {Temperatura ºC};
\addplot[dataline] coordinates {(178,7.54)(182,8.29)(186,8.39)(190,5.52)(194,5.31)(198,5.94)(202,5.31)(206,6.05)(210,5.31)(215,6.26)(219,7.33)(223,5.63)(227,6.16)(230,3.60)(234,5.09)(238,1.69)(242,3.18)(246,1.27)(252,0.73)(262,0.73)(268,0.51)(280,0.30)(296,0.30)(300,0.09)(315,-0.02)(320,-0.34)(325,-1.08)(329,-0.44)(333,-1.40)(337,-2.04)(342,-2.15)(347,-2.74)(351,-1.94)(355,-0.87)(360,-0.44)(366,-0.98)(372,-0.61)(380,-0.87)(388,-0.55)(395,-0.44)(401,-0.55)(406,-1.30)(412,-2.15)(416,-1.51)(421,-0.87)(427,-0.55)(433,-0.83)(440,-0.83)(446,-0.61)(452,-0.44)(457,-1.08)(462,-2.15)(468,-0.98)(474,-0.87)(487,-0.87)(492,-1.79)(496,-0.15)(502,0.0)(507,0.30)(511,0.83)(516,1.47)(520,0.20)(525,0.41)(529,0.83)(534,3.39)(538,1.47)(542,3.28)(546,3.50)(550,5.09)(554,2.75)(560,5.52)(564,3.18)(568,1.69)(573,4.99)(578,2.96)(583,4.24)(588,3.92)(592,5.52)(597,8.50)(601,8.07)(605,5.52)(609,6.80)(613,8.18)(618,6.58)(623,4.45)(628,7.33)(632,7.33)(636,9.03)(641,11.27)(645,8.93)(650,7.01)(654,4.99)(659,8.50)(662,11.27)(666,13.08)(670,9.78)(674,7.97)(679,10.21)(683,11.91)(688,14.36)(692,12.55)(696,13.93)(700,13.40)(704,14.14)(709,11.80)(714,13.18)(719,15.85)(723,13.29)(728,14.14)(732,13.93)(737,16.17)(741,14.89)(746,12.23)(750,14.68)(755,16.70)(759,15.31)(764,15.63)(768,15.31)(773,14.25)(777,16.17)(782,16.27)(786,15.31)(790,14.46)(795,15.74)(799,15.10)(804,15.31)(808,14.04)(812,13.40)(818,13.40)(822,12.97)(826,12.76)(831,9.35)(836,7.54)(840,9.99)(845,13.61)(850,11.80)(854,13.40)(858,12.97)(862,13.40)(867,13.82)(872,14.78)(877,14.46)(882,13.61)(886,12.33)(891,9.25)(896,7.86)(900,10.84)(905,10.21)(909,7.54)(912,5.84)(917,7.65)(921,9.67)(926,7.86)(930,6.90)(935,5.73)(940,9.56)(945,9.25)(950,7.01)(955,5.31)(959,6.80)(963,5.09)(967,5.73)(972,6.37)(976,4.67)(980,6.90)(985,6.37)(989,8.82)(993,8.18)(998,5.73)(1002,6.80)(1006,5.94)(1012,6.16)(1016,4.67)(1020,4.24)(1025,3.82)(1028,1.69)(1031,2.75)(1035,3.28)(1039,3.82)(1043,2.22)(1047,1.05)(1051,2.01)(1055,0.41)(1059,0.62)(1063,2.96)(1066,0.83)(1070,1.90)(1074,0.09)(1078,0.23)(1083,0.02)(1090,0.02)(1095,-0.09)(1115,-0.09)(1120,1.47)(1124,0.73)(1128,1.05)(1132,1.79)(1136,1.05)(1140,1.90)(1144,0.73)(1149,1.27)(1154,0.94)(1159,3.60)(1164,1.16)(1170,0.51)(1178,0.41)(1188,0.30)(1200,0.20)(1205,0.09)(1210,0.0)(1213,0.73)(1217,-0.02)(1225,-0.05)(1237,-0.05)(1242,0.83)(1247,2.75)(1252,0.83)(1257,-0.05)(1262,0.1)(1268,0.30)(1273,0.94)(1278,1.27)(1282,0.0)(1286,-0.11)(1330,-0.11)(1336,-0.02)(1339,2.11)(1343,2.75)(1347,3.39)(1351,5.09)(1355,6.16)(1359,3.60)(1363,4.45)(1368,4.45)(1373,3.18)(1377,2.54)(1382,5.20)(1387,6.58)(1391,7.65)(1395,5.94)(1399,3.71)(1403,5.94)(1407,9.78)(1411,8.07)(1415,9.67)(1420,7.86)(1424,4.88)(1429,6.80)(1433,5.31)(1437,8.71)(1441,8.07)(1445,9.56)(1450,10.42)(1455,9.99)(1459,10.74)(1463,7.22)(1467,7.44)(1472,6.16)(1476,7.22)(1480,10.74)(1485,8.93)(1490,11.91)(1495,12.55)(1499,10.42)(1502,11.48)(1506,10.42)(1510,13.61)(1514,10.95)(1518,11.48)(1523,13.61)(1526,13.61)};
\end{axis}

% ---------------- Panel 11 ----------------
\node[ttl] at (618.75,671.7) {Áliva 1720 m.a.s.l.};
\def\YMIN{-1}\def\YMAX{22.93}
\begin{axis}[panel, at={(33.533pt,182.489pt)}, x=0.213588pt, y=6.815pt,
  xmin=157, xmax=1555, ymin=-1, ymax=22.93,
  xtick={220,280,340,398,457,516,575,634,693,752,810,870,928,988,1046,1105,1164,1223,1282,1341,1400,1459,1518},
  xticklabels={Oc,Nov,Dic,Ene,Feb,Mz,Ab,My,My,Jn,Jl,Ag,Sep,Oc,Nov,Dic,Ene,Feb,Mz,Ab,My,My,Jn},
  ytick={-1,1,...,21},
  yticklabels={{\negl{-1,00}},{1,00},{3,00},{5,00},{7,00},{9,00},{11,00},{13,00},{15,00},{17,00},{19,00},{21,00}}]
\draw[frameline] (axis cs:235,\YMIN) -- (axis cs:235,\YMAX);
\draw[sepline] (axis cs:235,21.15) -- (axis cs:1555,21.15);
\draw[zeroline] (axis cs:235,0) -- (axis cs:1555,0);
\phl{376}{22.2}\phl{616}{22.2}\phl{626}{22.2}\phl{1083}{22.2}\phl{1143}{22.2}\phl{1412}{22.2}\phl{1422}{22.2}
\node[phlbl] at (axis cs:305,22.1) {2};
\node[phlbl] at (axis cs:488,22.1) {3};
\node[phlbl] at (axis cs:623,22.1) {4};
\node[phlbl] at (axis cs:850,22.1) {1};
\node[phlbl] at (axis cs:1115,22.1) {2};
\node[phlbl] at (axis cs:1284,22.1) {3};
\node[phlbl] at (axis cs:1418,22.1) {4};
\node[phlbl] at (axis cs:1497,22.1) {1};
\node[yearlbl, yshift=-13.6pt] at (axis cs:402,\YMIN) {2006};
\node[yearlbl, yshift=-13.6pt] at (axis cs:1170,\YMIN) {2007};
\node[xshift=-24.6pt, ylab] at (rel axis cs:0,0.471) {Temperatura ºC};
\addplot[dataline] coordinates {(236,7.25)(240,6.87)(244,6.78)(247,7.06)(251,5.16)(254,6.11)(258,4.88)(261,2.79)(265,3.27)(269,2.41)(273,2.04)(278,1.28)(285,1.22)(290,1.09)(296,0.80)(303,0.80)(308,1.03)(320,1.03)(326,0.80)(355,0.80)(360,0.61)(368,0.52)(375,0.15)(380,-0.04)(386,0.13)(395,0.13)(400,0.38)(430,0.38)(437,0.57)(470,0.57)(476,0.17)(481,0.38)(515,0.38)(520,0.23)(525,0.13)(548,0.13)(554,-0.04)(614,-0.04)(618,3.93)(622,6.02)(626,6.49)(630,6.21)(634,9.24)(638,7.91)(643,7.06)(647,7.91)(651,9.24)(656,10.19)(660,10.38)(664,12.66)(669,12.09)(673,10.38)(678,8.58)(682,10.95)(688,14.55)(692,13.22)(697,11.14)(701,12.66)(705,13.60)(710,15.12)(714,14.93)(717,15.12)(721,12.47)(725,15.50)(729,14.17)(733,14.65)(737,14.17)(742,16.83)(746,13.98)(750,13.03)(755,15.41)(759,17.21)(763,15.88)(768,13.60)(772,15.69)(777,17.78)(781,17.40)(786,17.97)(790,17.97)(793,18.44)(797,15.41)(801,17.21)(805,17.40)(810,18.35)(814,18.44)(818,15.97)(822,17.02)(826,16.83)(830,16.26)(834,15.12)(838,15.88)(842,15.03)(847,15.22)(851,13.98)(855,12.66)(858,9.24)(862,9.43)(866,12.47)(870,14.36)(875,13.41)(879,14.55)(884,14.74)(888,14.65)(892,15.41)(896,15.78)(900,15.69)(905,15.41)(909,14.93)(913,14.74)(917,11.71)(920,9.15)(924,12.09)(928,12.09)(933,9.43)(937,8.10)(941,7.72)(945,9.81)(949,11.04)(953,9.62)(957,9.81)(961,8.67)(965,11.04)(969,10.95)(973,9.81)(977,8.20)(981,8.48)(985,6.97)(989,7.91)(993,7.54)(997,6.78)(1001,7.91)(1006,6.97)(1010,8.29)(1014,8.48)(1018,8.29)(1022,6.59)(1026,7.44)(1030,6.21)(1034,6.11)(1038,5.64)(1042,4.50)(1046,3.74)(1050,4.97)(1054,3.27)(1057,4.60)(1061,4.97)(1065,4.50)(1069,3.36)(1073,2.60)(1076,3.46)(1080,1.09)(1083,0.71)(1087,2.32)(1090,3.74)(1094,1.85)(1099,1.28)(1104,1.09)(1110,1.03)(1125,1.03)(1130,0.80)(1137,0.80)(1141,0.52)(1147,0.52)(1152,0.61)(1165,0.61)(1172,0.37)(1180,0.33)(1186,0.42)(1194,0.42)(1200,0.61)(1230,0.61)(1237,0.38)(1272,0.38)(1277,0.13)(1282,0.38)(1288,0.13)(1295,0.13)(1300,0.38)(1360,0.38)(1367,0.17)(1410,0.17)(1414,2.98)(1418,7.54)(1422,7.91)(1426,5.64)(1430,7.35)(1434,9.62)(1438,11.14)(1442,8.29)(1446,10.19)(1450,11.71)(1454,10.19)(1458,6.21)(1462,8.67)(1466,9.81)(1470,11.52)(1474,12.09)(1478,13.41)(1482,13.41)(1486,13.60)(1490,12.47)(1494,11.14)(1498,11.23)(1502,10.57)(1507,10.85)(1511,13.03)(1515,13.60)(1518,10.95)(1522,13.79)(1526,13.41)(1530,13.89)(1534,13.60)(1537,15.12)(1541,16.07)(1545,13.22)(1549,14.36)(1553,15.50)(1555,14.93)};
\end{axis}

% ---------------- Panel 12 ----------------
\node[ttl] at (1971,666.2) {Fuente Dé 1115 m.a.s.l.};
\def\YMIN{0}\def\YMAX{26}
\begin{axis}[panel, at={(399.78pt,180.952pt)}, x=0.213227pt, y=6.214pt,
  xmin=152, xmax=1540, ymin=0, ymax=26,
  xtick={155,213,272,330,389,447,506,564,623,682,740,798,857,915,974,1032,1091,1150,1208,1267,1325,1384,1443,1500},
  xticklabels={Sep,Oc,Nov,Dic,Ene,Feb,Mz,Ab,My,My,Jn,Jl,Ago,Sep,Oc,Nov,Dic,Ene,Feb,Feb,Ab,My,My,Jn},
  ytick={0,2,...,26},
  yticklabels={{0,00},{2,00},{4,00},{6,00},{8,00},{10,00},{12,00},{14,00},{16,00},{18,00},{20,00},{22,00},{24,00},{26,00}}]
\draw[sepline] (axis cs:152,24.0) -- (axis cs:1540,24.0);
\phl{222}{25.2}\phl{520}{25.2}\phl{1042}{25.2}\phl{1355}{25.2}
\node[phlbl] at (axis cs:193,24.9) {1};
\node[phlbl] at (axis cs:372,24.9) {2};
\node[phlbl] at (axis cs:788,24.9) {1};
\node[phlbl] at (axis cs:1212,24.9) {2};
\node[phlbl] at (axis cs:1460,24.9) {1};
\node[yearlbl, yshift=-13.2pt] at (axis cs:392,\YMIN) {2006};
\node[yearlbl, yshift=-13.2pt] at (axis cs:1153,\YMIN) {2007};
\node[xshift=-24.9pt, ylab] at (rel axis cs:0,0.472) {Temperatura ºC};
\addplot[dataline] coordinates {(152,21.0)(156,20.5)(160,20.7)(164,21.8)(168,21.3)(172,21.9)(176,21.1)(180,20.2)(185,19.0)(189,19.7)(193,19.4)(197,21.8)(200,23.1)(204,21.4)(208,21.5)(212,20.9)(216,21.0)(219,20.4)(221,16.8)(223,11.9)(227,12.1)(231,13.2)(235,11.1)(239,11.2)(242,9.7)(246,10.5)(251,8.8)(256,9.8)(260,7.3)(264,7.2)(268,4.1)(272,6.3)(276,6.6)(280,7.1)(285,8.1)(289,6.2)(293,3.2)(298,2.7)(302,2.1)(307,3.6)(311,2.9)(317,5.5)(322,3.1)(326,3.5)(331,2.7)(336,4.2)(341,3.4)(347,3.95)(352,3.5)(357,3.5)(362,1.8)(367,4.1)(371,1.7)(376,2.3)(380,2.5)(385,3.2)(389,3.0)(393,3.4)(398,2.3)(402,2.7)(406,5.3)(410,3.95)(414,4.5)(419,4.1)(424,2.3)(429,1.55)(434,2.3)(438,2.9)(442,3.2)(447,4.6)(451,4.1)(455,5.6)(460,6.2)(464,7.2)(468,4.5)(472,2.3)(477,1.5)(483,1.1)(489,1.0)(495,0.8)(500,0.6)(505,0.6)(510,2.9)(514,3.3)(518,7.3)(522,9.5)(526,9.3)(530,9.0)(535,7.3)(540,7.7)(545,9.4)(549,10.2)(553,8.8)(557,10.4)(561,12.5)(565,9.6)(570,10.8)(574,8.3)(578,10.3)(582,10.7)(587,8.3)(592,10.2)(597,11.9)(602,11.2)(606,15.0)(611,13.3)(615,10.8)(620,13.5)(624,14.2)(628,12.1)(632,11.4)(637,14.7)(641,14.2)(646,16.0)(650,17.1)(655,16.0)(660,13.7)(664,12.3)(668,15.8)(673,17.1)(677,18.4)(681,16.4)(684,14.6)(689,16.4)(693,17.8)(697,19.9)(701,18.9)(705,20.1)(710,18.9)(714,19.8)(718,17.6)(722,18.3)(726,16.2)(730,19.0)(735,16.6)(740,14.6)(744,16.6)(749,20.0)(754,19.1)(758,17.4)(763,20.7)(767,21.5)(772,18.7)(776,20.6)(780,20.2)(784,21.5)(788,19.6)(792,21.6)(796,22.4)(800,19.9)(804,20.5)(808,20.6)(812,20.4)(816,20.6)(820,18.0)(824,19.6)(828,18.7)(833,20.2)(837,19.9)(841,18.9)(845,14.5)(850,13.6)(854,16.8)(857,19.3)(861,18.0)(865,17.6)(870,19.2)(874,19.1)(878,20.4)(882,21.2)(886,22.3)(890,21.9)(894,20.4)(898,20.1)(902,18.3)(906,14.7)(910,14.7)(914,17.3)(918,18.5)(922,16.0)(926,12.4)(930,14.8)(934,16.4)(938,15.2)(942,15.0)(946,12.5)(950,14.8)(954,15.4)(958,15.5)(962,12.8)(966,14.4)(970,14.6)(974,12.6)(978,11.1)(982,11.9)(986,11.6)(990,10.6)(994,12.0)(998,15.2)(1002,15.0)(1006,11.9)(1010,11.9)(1014,12.3)(1018,12.7)(1022,13.0)(1026,12.6)(1030,12.2)(1034,11.6)(1038,8.7)(1042,8.3)(1046,8.9)(1050,9.4)(1054,8.1)(1058,7.1)(1062,8.1)(1066,7.1)(1070,7.3)(1074,8.5)(1078,5.8)(1082,6.8)(1086,4.8)(1090,2.9)(1094,2.8)(1098,3.6)(1102,4.2)(1106,2.5)(1110,3.0)(1114,3.1)(1118,3.8)(1122,4.2)(1126,4.5)(1130,6.9)(1134,6.6)(1138,5.8)(1142,6.7)(1146,6.6)(1150,7.2)(1154,7.3)(1158,7.7)(1162,6.4)(1166,7.2)(1170,7.9)(1174,6.4)(1178,3.3)(1182,2.3)(1188,1.8)(1195,1.55)(1202,1.35)(1208,1.1)(1213,0.8)(1216,1.7)(1219,5.8)(1222,4.9)(1225,6.4)(1228,5.6)(1232,4.1)(1236,3.95)(1240,5.3)(1244,5.6)(1248,6.4)(1252,7.7)(1255,8.8)(1259,8.3)(1263,8.6)(1267,6.9)(1270,3.5)(1273,2.3)(1276,3.7)(1280,7.1)(1284,8.8)(1288,7.9)(1292,9.0)(1296,4.9)(1300,1.9)(1306,1.35)(1312,1.0)(1320,0.9)(1326,0.8)(1330,1.0)(1334,2.1)(1338,4.6)(1341,7.7)(1345,7.6)(1349,8.7)(1353,10.5)(1357,12.5)(1361,11.9)(1365,12.9)(1369,13.7)(1373,11.1)(1377,10.5)(1381,10.6)(1385,9.9)(1389,10.8)(1392,9.3)(1396,12.1)(1400,15.0)(1404,13.5)(1408,11.6)(1412,14.2)(1417,16.0)(1421,11.6)(1425,14.4)(1430,14.7)(1434,12.3)(1438,12.1)(1442,12.1)(1446,14.9)(1450,14.8)(1454,16.4)(1458,17.9)(1462,16.95)(1466,17.7)(1470,16.0)(1474,15.0)(1478,14.9)(1482,14.4)(1486,14.0)(1490,15.2)(1494,16.0)(1498,17.8)(1502,15.8)(1506,17.1)(1510,18.5)(1514,18.0)(1518,17.5)(1522,19.2)(1526,17.3)(1530,18.5)(1534,20.2)(1538,19.3)};
\end{axis}
\end{tikzpicture}
\end{document}
